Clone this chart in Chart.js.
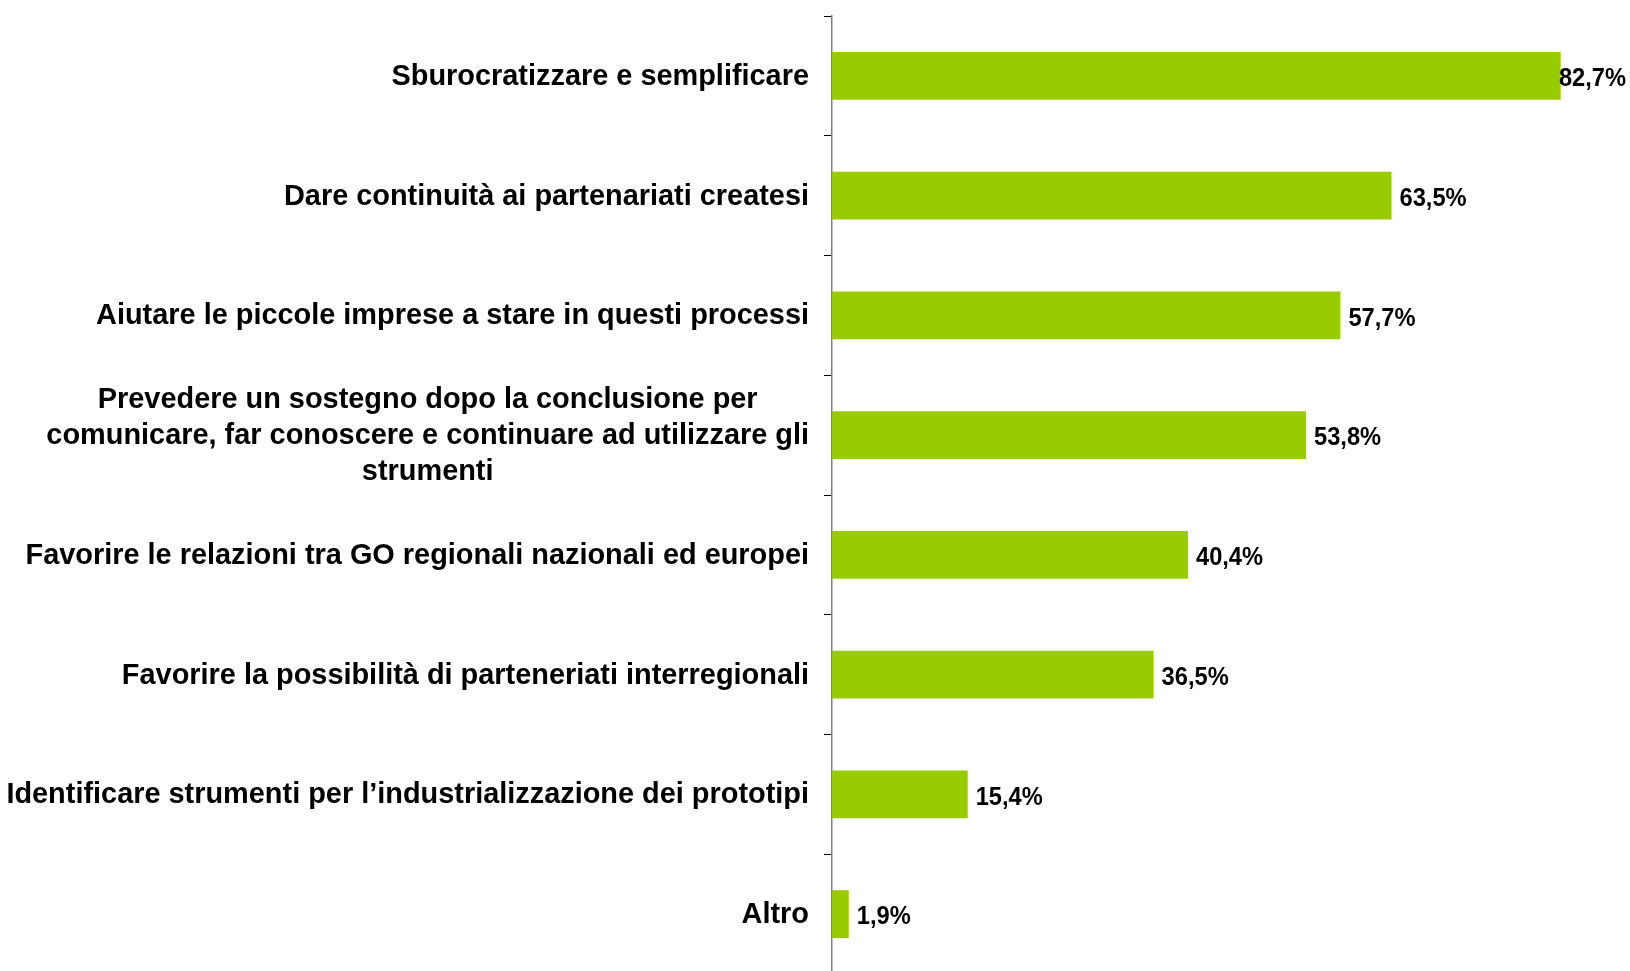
<!DOCTYPE html>
<html lang="it">
<head>
<meta charset="UTF-8">
<title>Priorità</title>
<script src="https://cdn.jsdelivr.net/npm/chart.js"></script>
<style>
    html, body {
        margin: 0;
        padding: 0;
        background: #ffffff;
        overflow: hidden;
    }
    .wrap {
        position: relative;
        width: 1630px;
        height: 975px;
    }
</style>
</head>
<body>
<div class="wrap">
    <canvas id="chart"></canvas>
</div>
<script>
// categorie (una riga per elemento dell'array interno)
const categorie = [
    ['Sburocratizzare e semplificare'],
    ['Dare continuità ai partenariati createsi'],
    ['Aiutare le piccole imprese a stare in questi processi'],
    ['Prevedere un sostegno dopo la conclusione per', 'comunicare, far conoscere e continuare ad utilizzare gli', 'strumenti'],
    ['Favorire le relazioni tra GO regionali nazionali ed europei'],
    ['Favorire la possibilità di parteneriati interregionali'],
    ['Identificare strumenti per l’industrializzazione dei prototipi'],
    ['Altro']
];
const percentuali = [82.7, 63.5, 57.7, 53.8, 40.4, 36.5, 15.4, 1.9];
const asseMax = 90;

const FONT_CAT = 'bold 28.9px "Liberation Sans", Arial, sans-serif';
const FONT_VAL = 'bold 26px "Liberation Sans", Arial, sans-serif';
const STRETCH_VAL = 0.91;

// etichette delle categorie: ogni blocco allineato a destra, righe centrate nel blocco
const etichetteCategorie = {
    id: 'etichetteCategorie',
    afterDraw(chart) {
        const ctx = chart.ctx;
        const y = chart.scales.y;
        const right = chart.chartArea.left - 23;
        const lineH = 36;
        ctx.save();
        ctx.font = FONT_CAT;
        ctx.fillStyle = '#000000';
        ctx.textBaseline = 'middle';
        ctx.textAlign = 'center';
        categorie.forEach((righe, i) => {
            const cy = y.getPixelForValue(i) + 1;
            const w = Math.max(...righe.map(r => ctx.measureText(r).width));
            const cx = right - w / 2;
            const y0 = cy - (righe.length - 1) * lineH / 2;
            righe.forEach((r, k) => ctx.fillText(r, cx, y0 + k * lineH));
        });
        ctx.restore();
    }
};

// valori a fianco delle barre
const etichetteValori = {
    id: 'etichetteValori',
    afterDatasetsDraw(chart) {
        const ctx = chart.ctx;
        const meta = chart.getDatasetMeta(0);
        ctx.save();
        ctx.font = FONT_VAL;
        ctx.fillStyle = '#000000';
        ctx.textBaseline = 'middle';
        ctx.textAlign = 'left';
        meta.data.forEach((bar, i) => {
            const txt = percentuali[i].toFixed(1).replace('.', ',') + '%';
            const w = ctx.measureText(txt).width * STRETCH_VAL;
            let x = bar.x + 8;
            if (x + w > chart.width - 4) x = chart.width - 4 - w;
            ctx.save();
            ctx.translate(x, bar.y + 3);
            ctx.scale(STRETCH_VAL, 1);
            ctx.fillText(txt, 0, 0);
            ctx.restore();
        });
        ctx.restore();
    }
};

new Chart(document.getElementById('chart'), {
    type: 'bar',
    data: {
        labels: categorie,
        datasets: [{
            data: percentuali,
            backgroundColor: '#99cc00',
            borderWidth: 0,
            barPercentage: 0.4,
            categoryPercentage: 1.0
        }]
    },
    options: {
        indexAxis: 'y',
        responsive: true,
        maintainAspectRatio: false,
        animation: false,
        layout: {
            padding: { left: 0, right: 5, top: 16, bottom: 1 }
        },
        plugins: {
            legend: { display: false },
            tooltip: { enabled: false }
        },
        scales: {
            x: {
                display: false,
                min: 0,
                max: asseMax
            },
            y: {
                afterFit: s => { s.width = 832; },
                grid: {
                    offset: true,
                    drawOnChartArea: false,
                    drawTicks: true,
                    tickLength: 8,
                    color: '#000000',
                    lineWidth: 1
                },
                border: {
                    color: '#808080',
                    width: 1.5
                },
                ticks: {
                    display: false
                }
            }
        }
    },
    plugins: [etichetteCategorie, etichetteValori]
});
</script>
</body>
</html>
